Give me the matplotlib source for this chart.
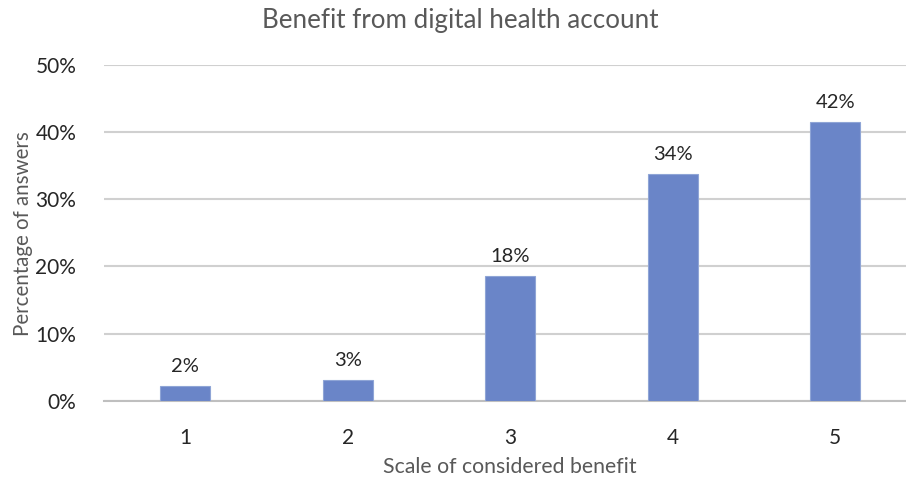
import matplotlib.pyplot as plt
from matplotlib.ticker import PercentFormatter

plt.rcParams['font.family'] = ['Lato', 'DejaVu Sans']

# Data
categories = ['1', '2', '3', '4', '5']
shares = [0.022, 0.031, 0.185, 0.337, 0.415]
labels = ['2%', '3%', '18%', '34%', '42%']

fig = plt.figure(figsize=(9.06, 4.82), dpi=100)
ax = fig.add_axes([0.1148, 0.1687, 0.8968, 0.6964])

x = range(len(categories))
bars = ax.bar(x, shares, width=0.31, color='#6A85C8', edgecolor='#8FA5D6', linewidth=0.8, zorder=3)

for b, lab in zip(bars, labels):
    ax.annotate(lab, (b.get_x() + b.get_width() / 2, b.get_height()),
                xytext=(0, 8), textcoords='offset points',
                ha='center', va='bottom', fontsize=14.5, color='#262626')

ax.set_xlim(-0.5, 4.5)
ax.set_ylim(0, 0.5)
ax.set_yticks([0, 0.1, 0.2, 0.3, 0.4, 0.5])
ax.yaxis.set_major_formatter(PercentFormatter(1.0, decimals=0))
ax.set_xticks(list(x))
ax.set_xticklabels(categories)
ax.tick_params(length=0, labelsize=15, labelcolor='#262626')
ax.tick_params(axis='x', pad=20)
ax.tick_params(axis='y', pad=20)

ax.grid(axis='y', color='#D0D0D0', linewidth=1.5, zorder=0)
for s in ['top', 'right', 'left']:
    ax.spines[s].set_visible(False)
ax.spines['bottom'].set_color('#BFBFBF')
ax.spines['bottom'].set_linewidth(1.5)

fig.text(0.508, 0.957, 'Benefit from digital health account', ha='center', va='center',
         fontsize=18.7, color='#595959')
fig.text(0.563, 0.031, 'Scale of considered benefit', ha='center', va='center',
         fontsize=15.3, color='#595959')
fig.text(0.025, 0.515, 'Percentage of answers', ha='center', va='center',
         rotation=90, fontsize=14.8, color='#595959')

fig.savefig('out.png', dpi=100)
